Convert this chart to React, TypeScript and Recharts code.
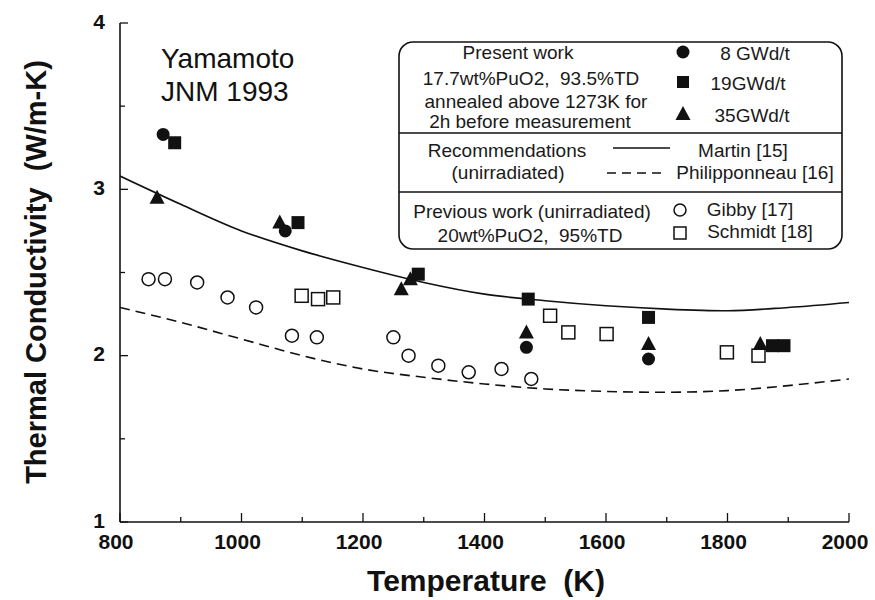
import React from 'react';
import { ComposedChart, XAxis, YAxis, Line, Scatter } from 'recharts';

// Temperature grid (K) for the recommended correlations
const curveTemps = [800, 900, 1000, 1100, 1200, 1300, 1400, 1500, 1600, 1700, 1800, 1900, 2000];
// Martin [15] recommendation, W/m-K
const martinK = [3.08, 2.91, 2.75, 2.63, 2.53, 2.44, 2.37, 2.33, 2.3, 2.28, 2.27, 2.29, 2.32];
// Philipponneau [16] recommendation, W/m-K
const philipponneauK = [2.29, 2.2, 2.1, 2.0, 1.92, 1.87, 1.83, 1.8, 1.785, 1.78, 1.79, 1.82, 1.86];

// Present work: irradiated MOX
const burnup8T = [871, 1072, 1469, 1670];
const burnup8K = [3.33, 2.75, 2.05, 1.98];
const burnup19T = [890, 1093, 1291, 1472, 1670, 1874, 1893];
const burnup19K = [3.28, 2.8, 2.49, 2.34, 2.23, 2.06, 2.06];
const burnup35T = [861, 1063, 1263, 1278, 1469, 1670, 1854];
const burnup35K = [2.95, 2.8, 2.4, 2.46, 2.14, 2.07, 2.07];

// Previous work (unirradiated)
const gibbyT = [847, 874, 927, 977, 1024, 1083, 1124, 1250, 1275, 1324, 1374, 1428, 1477];
const gibbyK = [2.46, 2.46, 2.44, 2.35, 2.29, 2.12, 2.11, 2.11, 2.0, 1.94, 1.9, 1.92, 1.86];
const schmidtT = [1099, 1126, 1151, 1508, 1538, 1601, 1799, 1851];
const schmidtK = [2.36, 2.34, 2.35, 2.24, 2.14, 2.13, 2.02, 2.0];

const xTicks = [800, 900, 1000, 1100, 1200, 1300, 1400, 1500, 1600, 1700, 1800, 1900, 2000];
const yTicks = [1, 1.5, 2, 2.5, 3, 3.5, 4];

const pairs = (ts: number[], ks: number[]) => ts.map((t, i) => ({ t, k: ks[i] }));

const martin = pairs(curveTemps, martinK);
const philipponneau = pairs(curveTemps, philipponneauK);
const burnup8 = pairs(burnup8T, burnup8K);
const burnup19 = pairs(burnup19T, burnup19K);
const burnup35 = pairs(burnup35T, burnup35K);
const gibby = pairs(gibbyT, gibbyK);
const schmidt = pairs(schmidtT, schmidtK);

const FONT = '"Liberation Sans", Arial, Helvetica, sans-serif';
const INK = '#111';

const FilledCircle = (p: any) => <circle cx={p.cx} cy={p.cy} r={6.5} fill={INK} />;
const FilledSquare = (p: any) => <rect x={p.cx - 6.5} y={p.cy - 6.5} width={13} height={13} fill={INK} />;
const FilledTriangle = (p: any) => (
  <polygon points={`${p.cx},${p.cy - 8} ${p.cx - 7.5},${p.cy + 6} ${p.cx + 7.5},${p.cy + 6}`} fill={INK} />
);
const OpenCircle = (p: any) => (
  <circle cx={p.cx} cy={p.cy} r={6.5} fill="#fff" stroke={INK} strokeWidth={1.5} />
);
const OpenSquare = (p: any) => (
  <rect x={p.cx - 6.5} y={p.cy - 6.5} width={13} height={13} fill="#fff" stroke={INK} strokeWidth={1.5} />
);

const isMajorX = (v: number) => v % 200 === 0;
const isMajorY = (v: number) => Number.isInteger(v);

const BottomTick = (props: any) => {
  const { x, y, payload } = props;
  const v = payload.value;
  const major = isMajorX(v);
  return (
    <g>
      <line x1={x} y1={y} x2={x} y2={y - (major ? 9 : 5)} stroke={INK} strokeWidth={1.3} />
      {major && (
        <text x={x - 4} y={y + 19} textAnchor="middle" dominantBaseline="central"
          fontFamily={FONT} fontWeight="bold" fontSize={21} fill={INK}>{v}</text>
      )}
    </g>
  );
};

const TopTick = (props: any) => {
  const { x, y, payload } = props;
  const major = isMajorX(payload.value);
  return <line x1={x} y1={y} x2={x} y2={y + (major ? 8 : 5)} stroke={INK} strokeWidth={1.3} />;
};

const LeftTick = (props: any) => {
  const { x, y, payload } = props;
  const v = payload.value;
  const major = isMajorY(v);
  return (
    <g>
      <line x1={x} y1={y} x2={x + (major ? 8 : 5)} y2={y} stroke={INK} strokeWidth={1.3} />
      {major && (
        <text x={x - 15} y={y - 2} textAnchor="end" dominantBaseline="central"
          fontFamily={FONT} fontWeight="bold" fontSize={21} fill={INK}>{v}</text>
      )}
    </g>
  );
};

const RightTick = (props: any) => {
  const { x, y, payload } = props;
  const major = isMajorY(payload.value);
  return <line x1={x} y1={y} x2={x - (major ? 8 : 5)} y2={y} stroke={INK} strokeWidth={1.3} />;
};

const T = (p: { x: number; y: number; children: React.ReactNode }) => (
  <text x={p.x} y={p.y} textAnchor="middle" fontFamily={FONT} fontSize={19} fill="#1a1a1a"
    style={{ whiteSpace: 'pre' }}>{p.children}</text>
);

// Key box drawn in the upper right of the plot
const KeyBox = () => (
  <g>
    <rect x={399} y={42} width={443} height={207} rx={14} ry={14} fill="#fff" stroke={INK} strokeWidth={1.6} />
    <line x1={399} y1={133} x2={842} y2={133} stroke={INK} strokeWidth={1.4} />
    <line x1={399} y1={192} x2={842} y2={192} stroke={INK} strokeWidth={1.4} />

    <T x={518} y={59}>Present work</T>
    <T x={531} y={85}>17.7wt%PuO2,  93.5%TD</T>
    <T x={536} y={108}>annealed above 1273K for</T>
    <T x={530} y={128}>2h before measurement</T>

    <circle cx={683} cy={52} r={6.5} fill={INK} />
    <rect x={677} y={76} width={12} height={12} fill={INK} />
    <polygon points="683,106 675.5,120 690.5,120" fill={INK} />
    <T x={755} y={60}>8 GWd/t</T>
    <T x={748} y={90}>19GWd/t</T>
    <T x={752} y={122}>35GWd/t</T>

    <T x={507} y={157}>Recommendations</T>
    <T x={508} y={179}>(unirradiated)</T>
    <line x1={613} y1={148} x2={670} y2={148} stroke={INK} strokeWidth={1.5} />
    <line x1={607} y1={173} x2={662} y2={173} stroke={INK} strokeWidth={1.5} strokeDasharray="9 6" />
    <T x={743} y={157}>Martin [15]</T>
    <T x={755} y={179}>Philipponneau [16]</T>

    <T x={532} y={218}>Previous work (unirradiated)</T>
    <T x={530} y={242}>20wt%PuO2,  95%TD</T>
    <circle cx={680} cy={210} r={6} fill="#fff" stroke={INK} strokeWidth={1.5} />
    <rect x={674} y={227} width={12} height={12} fill="#fff" stroke={INK} strokeWidth={1.5} />
    <T x={750} y={216}>Gibby [17]</T>
    <T x={760} y={238}>Schmidt [18]</T>
  </g>
);

const Titles = () => (
  <g>
    <text x={161} y={68} fontFamily={FONT} fontSize={28} fill={INK}>Yamamoto</text>
    <text x={161} y={101} fontFamily={FONT} fontSize={28} fill={INK}>JNM 1993</text>
    <text x={486} y={580} textAnchor="middle" dominantBaseline="central" fontFamily={FONT}
      fontWeight="bold" fontSize={30} fill={INK} style={{ whiteSpace: 'pre' }}>Temperature  (K)</text>
    <text x={36} y={272} textAnchor="middle" dominantBaseline="central" fontFamily={FONT}
      fontWeight="bold" fontSize={29} fill={INK} transform="rotate(-90 36 272)"
      style={{ whiteSpace: 'pre' }}>Thermal Conductivity  (W/m-K)</text>
  </g>
);

export default function App() {
  return (
    <div style={{ position: 'absolute', left: 0, top: 0, width: 875, height: 600, background: '#fff' }}>
      <ComposedChart width={875} height={600} margin={{ top: 23, right: 26, bottom: 38, left: 60 }}>
        <XAxis xAxisId="main" dataKey="t" type="number" domain={[800, 2000]} ticks={xTicks} interval={0}
          allowDataOverflow height={40} tickSize={0} tickMargin={0} tickLine={false}
          axisLine={{ stroke: INK, strokeWidth: 1.6 }} tick={<BottomTick />} />
        <XAxis xAxisId="top" orientation="top" dataKey="t" type="number" domain={[800, 2000]} ticks={xTicks}
          interval={0} allowDataOverflow height={0} tickSize={0} tickMargin={0} tickLine={false}
          axisLine={{ stroke: INK, strokeWidth: 1.6 }} tick={<TopTick />} />
        <YAxis yAxisId="main" type="number" domain={[1, 4]} ticks={yTicks} interval={0} allowDataOverflow
          width={60} tickSize={0} tickMargin={0} tickLine={false}
          axisLine={{ stroke: INK, strokeWidth: 1.6 }} tick={<LeftTick />} />
        <YAxis yAxisId="right" orientation="right" type="number" domain={[1, 4]} ticks={yTicks} interval={0}
          allowDataOverflow width={0} tickSize={0} tickMargin={0} tickLine={false}
          axisLine={{ stroke: INK, strokeWidth: 1.6 }} tick={<RightTick />} />

        <Line xAxisId="main" yAxisId="main" data={martin} dataKey="k" type="monotone" stroke={INK}
          strokeWidth={1.6} dot={false} activeDot={false} isAnimationActive={false} />
        <Line xAxisId="main" yAxisId="main" data={philipponneau} dataKey="k" type="monotone" stroke={INK}
          strokeWidth={1.6} strokeDasharray="10 6" dot={false} activeDot={false} isAnimationActive={false} />

        <Scatter xAxisId="main" yAxisId="main" data={gibby} dataKey="k" shape={OpenCircle} isAnimationActive={false} />
        <Scatter xAxisId="main" yAxisId="main" data={schmidt} dataKey="k" shape={OpenSquare} isAnimationActive={false} />
        <Scatter xAxisId="main" yAxisId="main" data={burnup35} dataKey="k" shape={FilledTriangle} isAnimationActive={false} />
        <Scatter xAxisId="main" yAxisId="main" data={burnup8} dataKey="k" shape={FilledCircle} isAnimationActive={false} />
        <Scatter xAxisId="main" yAxisId="main" data={burnup19} dataKey="k" shape={FilledSquare} isAnimationActive={false} />

        <Titles />
        <KeyBox />
      </ComposedChart>
    </div>
  );
}
